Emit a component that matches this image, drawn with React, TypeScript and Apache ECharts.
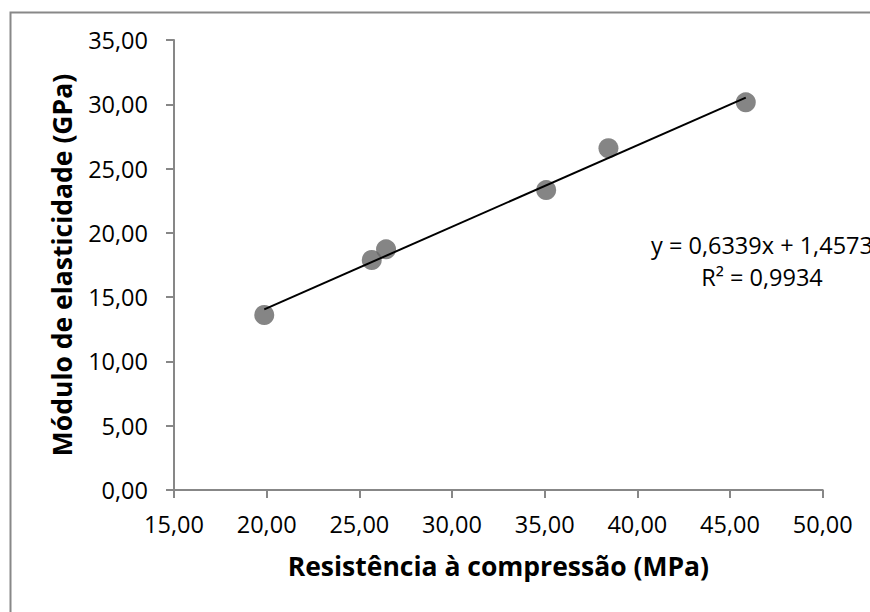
import React, { useEffect, useRef } from "react";
import * as echarts from "echarts";

const resistencia = [19.87, 25.67, 26.44, 35.08, 38.44, 45.85];
const modulo = [13.61, 17.89, 18.72, 23.33, 26.58, 30.15];
const trendSlope = 0.6339;
const trendIntercept = 1.4573;
const trendLabel = ["y = 0,6339x + 1,4573", "R² = 0,9934"];
const xTitle = "Resistência à compressão (MPa)";
const yTitle = "Módulo de elasticidade (GPa)";

const FONT = "'Open Sans', sans-serif";
const fmt = (v: number) => v.toFixed(2).replace(".", ",");

export default function App() {
  const ref = useRef<HTMLDivElement>(null);
  useEffect(() => {
    if (!ref.current) return;
    const chart = echarts.init(ref.current, null, { renderer: "svg" });
    const xMin = Math.min(...resistencia);
    const xMax = Math.max(...resistencia);
    const trend = [
      [xMin, trendSlope * xMin + trendIntercept],
      [xMax, trendSlope * xMax + trendIntercept],
    ];
    const axisLine = { lineStyle: { color: "#878787", width: 2 } };
    chart.setOption({
      animation: false,
      backgroundColor: "#ffffff",
      textStyle: { fontFamily: FONT },
      grid: { left: 174, top: 40, right: 47.3, bottom: 122, containLabel: false },
      xAxis: {
        type: "value",
        min: 15,
        max: 50,
        interval: 5,
        name: xTitle,
        nameLocation: "middle",
        nameGap: 62,
        nameTextStyle: { fontFamily: FONT, fontSize: 26.5, fontWeight: "bold", color: "#000" },
        axisLine: { show: true, onZero: false, ...axisLine },
        axisTick: { show: true, length: 8, lineStyle: { color: "#878787", width: 2 } },
        axisLabel: { formatter: fmt, fontSize: 23.5, color: "#000", margin: 22, fontFamily: FONT },
        splitLine: { show: false },
      },
      yAxis: {
        type: "value",
        min: 0,
        max: 35,
        interval: 5,
        name: yTitle,
        nameLocation: "middle",
        nameGap: 99,
        nameTextStyle: { fontFamily: FONT, fontSize: 26.5, fontWeight: "bold", color: "#000" },
        axisLine: { show: true, ...axisLine },
        axisTick: { show: true, length: 8, lineStyle: { color: "#878787", width: 2 } },
        axisLabel: { formatter: fmt, fontSize: 23.5, color: "#000", margin: 26, fontFamily: FONT },
        splitLine: { show: false },
      },
      series: [
        {
          type: "scatter",
          data: resistencia.map((x, i) => [x, modulo[i]]),
          symbol: "circle",
          symbolSize: 20,
          itemStyle: { color: "#666666" },
          z: 2,
        },
        {
          type: "line",
          data: trend,
          symbol: "none",
          lineStyle: { color: "#000000", width: 2 },
          z: 3,
        },
      ],
      graphic: [
        {
          type: "rect",
          left: 8,
          top: 10,
          shape: { width: 900, height: 700 },
          style: { fill: "none", stroke: "#888888", lineWidth: 2 },
          silent: true,
        },
        {
          type: "text",
          x: 762,
          y: 245,
          style: { text: trendLabel[0], fontFamily: FONT, fontSize: 23.5, fill: "#000", textAlign: "center", textVerticalAlign: "middle" },
        },
        {
          type: "text",
          x: 762,
          y: 277,
          style: { text: trendLabel[1], fontFamily: FONT, fontSize: 23.5, fill: "#000", textAlign: "center", textVerticalAlign: "middle" },
        },
      ],
    });
    return () => chart.dispose();
  }, []);
  return <div ref={ref} style={{ position: "absolute", left: 0, top: 0, width: 870, height: 612 }} />;
}
